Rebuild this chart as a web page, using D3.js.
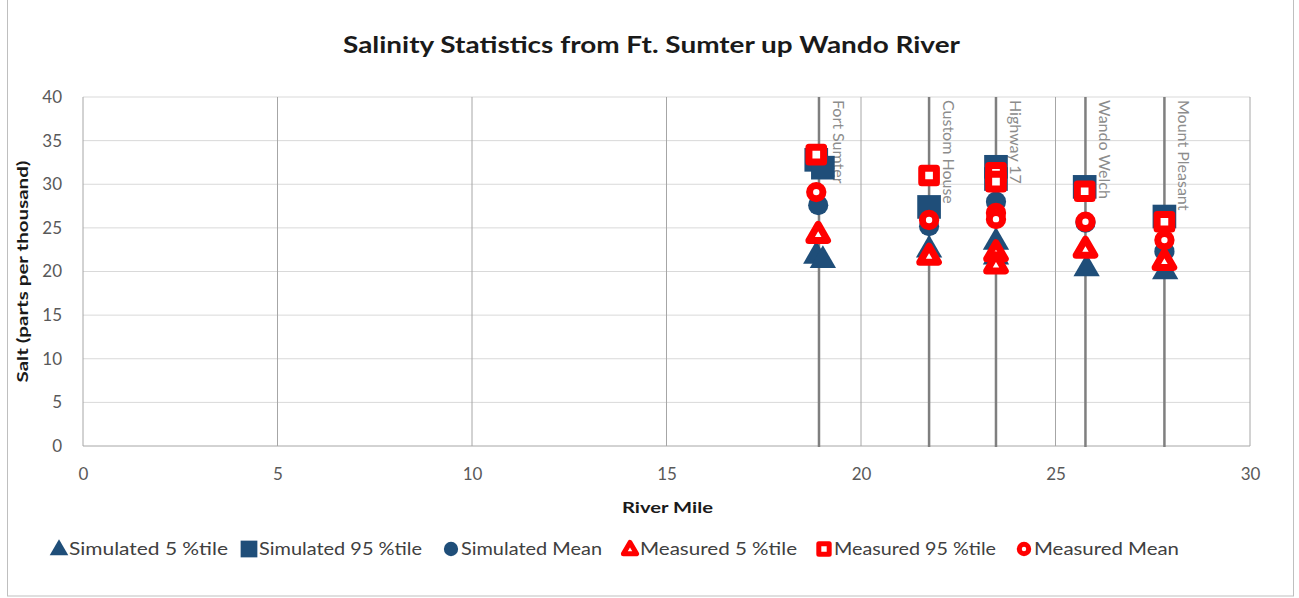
<!DOCTYPE html>
<html>
<head>
<meta charset="utf-8">
<script src="https://cdn.jsdelivr.net/npm/d3@7"></script>
<style>
  body { margin: 0; background: #fff; }
  text { font-family: Lato, "Open Sans", sans-serif; }
</style>
</head>
<body>
<div id="chart"></div>
<script>
const WIDTH = 1299;
const HEIGHT = 598;
const PLOT = {x: 83, y: 97, w: 1167, h: 349};

// station reference lines
const stationNames = ['Fort Sumter', 'Custom House', 'Highway 17', 'Wando Welch', 'Mount Pleasant'];
const stationMiles = [18.92, 21.75, 23.47, 25.77, 27.8];

// [river mile, salinity]
const sim5 = [[18.85, 22.0], [19.02, 21.5], [21.75, 22.7], [23.47, 23.6], [23.47, 21.9], [25.8, 20.55], [27.82, 20.2]];
const sim95 = [[18.85, 32.8], [19.02, 31.9], [21.75, 27.4], [23.47, 32.0], [23.47, 30.6], [25.75, 29.7], [27.8, 26.3]];
const simMean = [[18.9, 27.6], [21.75, 25.2], [23.47, 28.0], [25.77, 25.6], [27.8, 22.3]];
const meas5 = [[18.9, 24.4], [21.75, 21.9], [23.47, 22.3], [23.47, 20.9], [25.77, 22.7], [27.8, 21.3]];
const meas95 = [[18.85, 33.4], [21.75, 31.0], [23.47, 31.3], [23.47, 30.3], [25.75, 29.2], [27.8, 25.7]];
const measMean = [[18.85, 29.1], [21.75, 25.9], [23.47, 26.7], [23.47, 26.0], [25.77, 25.7], [27.8, 23.6]];

const xTicks = [0, 5, 10, 15, 20, 25, 30];
const yTicks = [0, 5, 10, 15, 20, 25, 30, 35, 40];

const BLUE = '#1f4e79';
const RED = '#ff0000';

const series = [
    {name: 'Simulated 5 %tile', data: sim5, shape: 'triangle', hollow: false, color: BLUE},
    {name: 'Simulated 95 %tile', data: sim95, shape: 'square', hollow: false, color: BLUE},
    {name: 'Simulated Mean', data: simMean, shape: 'circle', hollow: false, color: BLUE},
    {name: 'Measured 5 %tile', data: meas5, shape: 'triangle', hollow: true, color: RED},
    {name: 'Measured 95 %tile', data: meas95, shape: 'square', hollow: true, color: RED},
    {name: 'Measured Mean', data: measMean, shape: 'circle', hollow: true, color: RED}
];
// legend: marker centre and text width
const legendX = [59, 249, 451, 630, 824, 1024];
const legendW = [159, 163, 141, 157, 162, 145];

const svg = d3.select('#chart').append('svg')
    .attr('width', WIDTH)
    .attr('height', HEIGHT);

svg.append('rect')
    .attr('x', 7.5).attr('y', -1)
    .attr('width', 1286).attr('height', 597)
    .attr('fill', '#fff')
    .attr('stroke', '#bfbfbf');

const x = d3.scaleLinear().domain([0, 30]).range([PLOT.x, PLOT.x + PLOT.w]);
const y = d3.scaleLinear().domain([0, 40]).range([PLOT.y + PLOT.h, PLOT.y]);

// horizontal gridlines
svg.append('g').selectAll('line').data(yTicks.slice(1)).join('line')
    .attr('x1', PLOT.x).attr('x2', PLOT.x + PLOT.w)
    .attr('y1', d => y(d)).attr('y2', d => y(d))
    .attr('stroke', '#d9d9d9').attr('stroke-width', 1);

// vertical gridlines
svg.append('g').selectAll('line').data(xTicks).join('line')
    .attr('x1', d => x(d)).attr('x2', d => x(d))
    .attr('y1', PLOT.y).attr('y2', PLOT.y + PLOT.h)
    .attr('stroke', '#a6a6a6').attr('stroke-width', 1);

// x axis line
svg.append('line')
    .attr('x1', PLOT.x).attr('x2', PLOT.x + PLOT.w)
    .attr('y1', y(0)).attr('y2', y(0))
    .attr('stroke', '#a6a6a6').attr('stroke-width', 1);

// station lines
svg.append('g').selectAll('line').data(stationMiles).join('line')
    .attr('x1', d => x(d)).attr('x2', d => x(d))
    .attr('y1', PLOT.y).attr('y2', PLOT.y + PLOT.h + 1)
    .attr('stroke', '#7f7f7f').attr('stroke-width', 2.5);

svg.append('g').selectAll('text').data(stationNames).join('text')
    .attr('transform', (d, i) => `translate(${x(stationMiles[i]) + 14},${PLOT.y + 3}) rotate(90)`)
    .attr('font-family', '"Open Sans", sans-serif')
    .attr('font-size', 16)
    .attr('fill', '#8c8c8c')
    .text(d => d);

// axis tick labels
const xAxis = svg.append('g')
    .attr('transform', `translate(0,${PLOT.y + PLOT.h})`)
    .call(d3.axisBottom(x).tickValues(xTicks).tickSize(0).tickPadding(22));
const yAxis = svg.append('g')
    .attr('transform', `translate(${PLOT.x},0)`)
    .call(d3.axisLeft(y).tickValues(yTicks).tickSize(0).tickPadding(21));
[xAxis, yAxis].forEach(g => {
    g.select('.domain').remove();
    g.selectAll('text')
        .attr('font-family', 'Lato, sans-serif')
        .attr('font-size', 17)
        .attr('fill', '#595959');
});

// titles
svg.append('text')
    .attr('x', 343).attr('y', 53)
    .attr('textLength', 617).attr('lengthAdjust', 'spacingAndGlyphs')
    .attr('font-size', 22).attr('font-weight', 'bold')
    .attr('fill', '#1a1a1a')
    .text('Salinity Statistics from Ft. Sumter up Wando  River');

svg.append('text')
    .attr('x', 622).attr('y', 513)
    .attr('textLength', 91).attr('lengthAdjust', 'spacingAndGlyphs')
    .attr('font-size', 16).attr('font-weight', 'bold')
    .attr('fill', '#1a1a1a')
    .text('River Mile');

svg.append('text')
    .attr('transform', `translate(28,${y(20) + 111}) rotate(-90)`)
    .attr('textLength', 222).attr('lengthAdjust', 'spacingAndGlyphs')
    .attr('font-size', 16).attr('font-weight', 'bold')
    .attr('fill', '#1a1a1a')
    .text('Salt (parts per thousand)');

// marker shapes
function symbolFor(s, big) {
    const types = {triangle: d3.symbolTriangle, square: d3.symbolSquare, circle: d3.symbolCircle};
    let size;
    if (s.shape === 'square') size = s.hollow ? 215 : 560;
    else if (s.shape === 'circle') size = s.hollow ? 140 : 320;
    else size = s.hollow ? 150 : 300;
    if (!big) size = size * 0.5;
    return d3.symbol().type(types[s.shape]).size(size)();
}

function drawMarker(g, s, big) {
    const hollow = s.hollow;
    g.append('path')
        .attr('d', symbolFor(s, big))
        .attr('fill', hollow ? '#fff' : s.color)
        .attr('stroke', s.color)
        .attr('stroke-width', hollow ? (big ? 7 : 5) : 0)
        .attr('stroke-linejoin', 'round');
}

series.forEach(s => {
    const g = svg.append('g');
    s.data.forEach(d => {
        const m = g.append('g')
            .attr('transform', `translate(${x(d[0])},${y(d[1]) + (s.shape === 'triangle' ? 2 : 0)})`);
        drawMarker(m, s, true);
    });
});

// legend
series.forEach((s, i) => {
    const g = svg.append('g').attr('transform', `translate(${legendX[i]},549)`);
    const m = g.append('g').attr('transform', `translate(0,${s.shape === 'triangle' ? 1 : 0})`);
    drawMarker(m, s, false);
    g.append('text')
        .attr('x', 10).attr('y', 6)
        .attr('textLength', legendW[i]).attr('lengthAdjust', 'spacingAndGlyphs')
        .attr('font-size', 17)
        .attr('fill', '#404040')
        .text(s.name);
});
</script>
</body>
</html>
